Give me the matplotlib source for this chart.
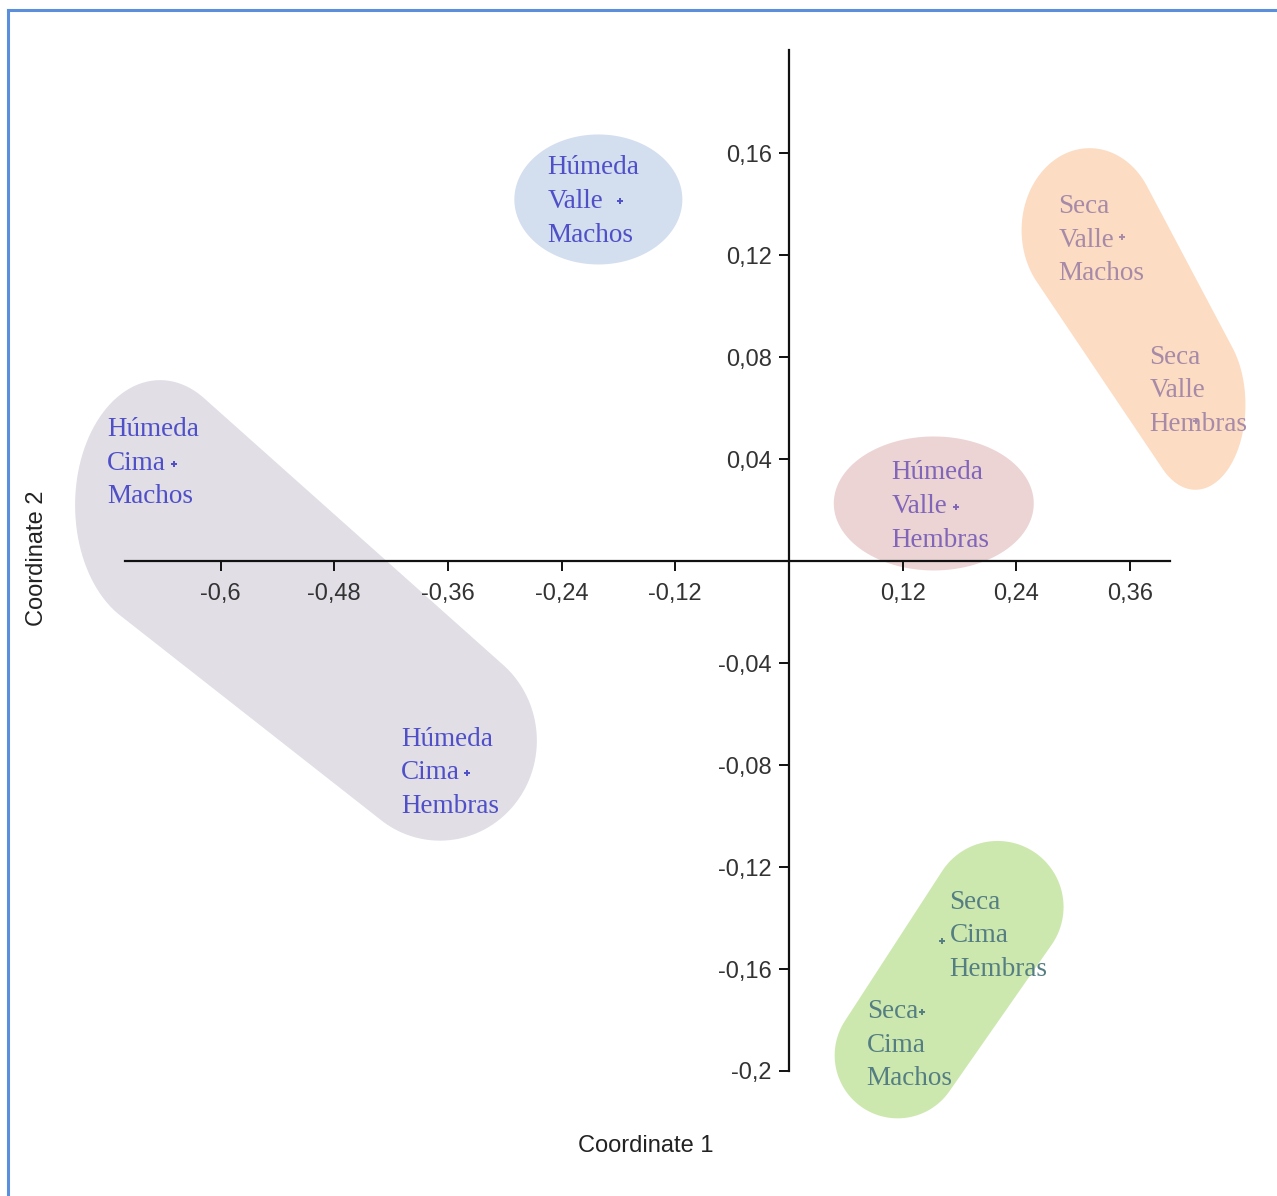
import numpy as np
import matplotlib.pyplot as plt
from matplotlib.patches import Polygon
from matplotlib.lines import Line2D
from matplotlib.ticker import FixedLocator, FuncFormatter

plt.rcParams['font.family'] = ['Liberation Sans', 'DejaVu Sans']

# PCoA scores for every season / site / sex combination
labels = ["Húmeda\nValle\nMachos", "Húmeda\nCima\nMachos", "Húmeda\nCima\nHembras",
          "Húmeda\nValle\nHembras", "Seca\nValle\nMachos", "Seca\nValle\nHembras",
          "Seca\nCima\nHembras", "Seca\nCima\nMachos"]
coord1 = [-0.178, -0.649, -0.340, 0.176, 0.351, 0.430, 0.161, 0.140]
coord2 = [0.141, 0.038, -0.083, 0.021, 0.127, 0.055, -0.149, -0.177]
groups = [[0], [1, 2], [3], [4, 5], [6, 7]]

x_ticks = [-0.6, -0.48, -0.36, -0.24, -0.12, 0.12, 0.24, 0.36]
y_ticks = [0.16, 0.12, 0.08, 0.04, -0.04, -0.08, -0.12, -0.16, -0.2]

# styling
label_colors = ["#4f4fc8", "#4f4fc8", "#4f4fc8", "#8065b8",
                "#a68aa8", "#a68aa8", "#547e82", "#547e82"]
# text offset from the point, pixels (right, down)
label_offsets = [(-73, 0), (-67, -1), (-66, 0), (-64, -1),
                 (-63, 3), (-47, -30), (8, -5), (-55, 33)]
group_colors = ["#d3deef", "#e1dee6", "#ecd4d5", "#fcdcc2", "#cde8af"]
# blob lobes per group: (point, dx, dy, rx, ry) in pixels
group_lobes = [
    [(0, -22, -2, 84, 65)],
    [(1, -14, 41, 85, 125), (2, -27, -32, 97, 100)],
    [(3, -22, -4, 100, 67)],
    [(4, -32, -7, 68, 82), (5, -1, -16, 50, 85)],
    [(6, 56, -34, 66, 66), (7, -24, 43, 63, 63)],
]


def convex_hull(pts):
    pts = sorted(map(tuple, pts))

    def cross(o, a, b):
        return (a[0] - o[0]) * (b[1] - o[1]) - (a[1] - o[1]) * (b[0] - o[0])

    lower, upper = [], []
    for p in pts:
        while len(lower) >= 2 and cross(lower[-2], lower[-1], p) <= 0:
            lower.pop()
        lower.append(p)
    for p in reversed(pts):
        while len(upper) >= 2 and cross(upper[-2], upper[-1], p) <= 0:
            upper.pop()
        upper.append(p)
    return np.array(lower[:-1] + upper[:-1])


W, H = 1277, 1196
fig = plt.figure(figsize=(W / 100, H / 100), dpi=100)
ax = fig.add_axes([125 / W, 1 - 1071 / H, 1045 / W, 1021 / H])
ax.set_xlim(-0.7008, 0.4021)
ax.set_ylim(-0.2, 0.2004)

for s in ['top', 'right']:
    ax.spines[s].set_visible(False)
for s in ['left', 'bottom']:
    ax.spines[s].set_position(('data', 0))
    ax.spines[s].set_linewidth(1.6)
    ax.spines[s].set_color('#111111')

ax.xaxis.set_major_locator(FixedLocator(x_ticks))
ax.yaxis.set_major_locator(FixedLocator(y_ticks))
fmt = FuncFormatter(lambda v, p: f"{v:g}".replace('.', ','))
ax.xaxis.set_major_formatter(fmt)
ax.yaxis.set_major_formatter(fmt)
ax.tick_params(axis='both', direction='out', length=7.5, width=1.4,
               color='#111111', labelsize=17, labelcolor='#333333')
ax.tick_params(axis='x', pad=8)
ax.tick_params(axis='y', pad=5)

# group blobs
theta = np.linspace(0, 2 * np.pi, 120, endpoint=False)
for lobes, col in zip(group_lobes, group_colors):
    pts = []
    for i, dx, dy, rx, ry in lobes:
        cx, cy = ax.transData.transform((coord1[i], coord2[i]))
        cx, cy = cx + dx, cy - dy
        pts.append(np.column_stack([cx + rx * np.cos(theta), cy + ry * np.sin(theta)]))
    hull = convex_hull(np.vstack(pts))
    hull = ax.transData.inverted().transform(hull)
    ax.add_patch(Polygon(hull, closed=True, facecolor=col, edgecolor='none',
                         zorder=0, clip_on=False))

# points and labels
for x, y, lbl, col, (dx, dy) in zip(coord1, coord2, labels, label_colors, label_offsets):
    ax.plot(x, y, marker='+', markersize=5, markeredgewidth=1.4, color=col,
            zorder=3, clip_on=False)
    ax.annotate(lbl, (x, y), xytext=(dx, -dy), textcoords='offset pixels',
                ha='left', va='center', fontfamily='Liberation Serif',
                fontsize=19.5, color=col, linespacing=1.45, zorder=3,
                annotation_clip=False)

fig.text(645.5 / W, 1 - 1146 / H, "Coordinate 1", ha='center', va='center',
         fontsize=17, color='#222222')
fig.text(37 / W, 1 - 558 / H, "Coordinate 2", ha='center', va='center',
         rotation=90, fontsize=17, color='#222222')

# frame lines on the left and top
fig.add_artist(Line2D([8 / W, 8 / W], [0, 1 - 10 / H], color='#5b8fdc', lw=2.2,
                      transform=fig.transFigure))
fig.add_artist(Line2D([8 / W, 1], [1 - 10 / H, 1 - 10 / H], color='#5b8fdc', lw=2.2,
                      transform=fig.transFigure))

fig.savefig("out.png", dpi=100)
